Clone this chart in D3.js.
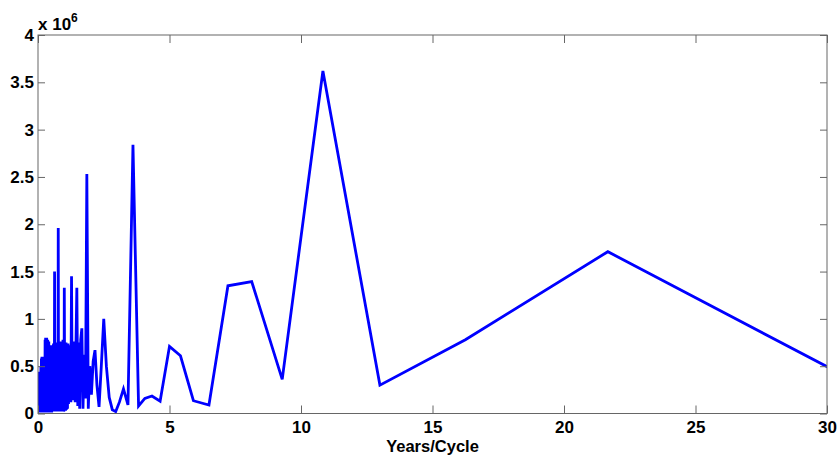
<!DOCTYPE html>
<html>
<head>
<meta charset="utf-8">
<script src="https://cdnjs.cloudflare.com/ajax/libs/d3/7.8.5/d3.min.js"></script>
<style>
  body { margin: 0; background: #fff; }
  svg { display: block; }
  text { font-family: "Liberation Sans", Arial, sans-serif; font-weight: bold; fill: #000; }
</style>
</head>
<body>
<svg id="chart" width="838" height="456"></svg>
<script>
// periods (years per cycle), ascending
var periods = [
  0.01, 0.02, 0.03, 0.04, 0.05, 0.06, 0.07, 0.08, 0.09, 0.10,
  0.11, 0.12, 0.13, 0.14, 0.15, 0.16, 0.17, 0.18, 0.19, 0.20,
  0.21, 0.22, 0.23, 0.24, 0.25, 0.26, 0.27, 0.28, 0.29, 0.30,
  0.31, 0.32, 0.33, 0.34, 0.35, 0.36, 0.37, 0.38, 0.39, 0.40,
  0.41, 0.42, 0.43, 0.44, 0.45, 0.46, 0.47, 0.48, 0.49, 0.50,
  0.51, 0.52, 0.53, 0.54, 0.55, 0.56, 0.57, 0.58, 0.59, 0.60,
  0.61, 0.62, 0.63, 0.64, 0.65, 0.66, 0.67, 0.68, 0.69, 0.70,
  0.71, 0.72, 0.73, 0.74, 0.75, 0.76, 0.77, 0.78, 0.79, 0.80,
  0.81, 0.82, 0.83, 0.84, 0.85, 0.86, 0.87, 0.88, 0.89, 0.90,
  0.91, 0.92, 0.93, 0.94, 0.95, 0.96, 0.97, 0.98, 0.99,
  1.000, 1.016, 1.032, 1.048, 1.066, 1.083, 1.102, 1.121, 1.140, 1.161,
  1.182, 1.204, 1.226, 1.250, 1.275, 1.300, 1.327, 1.354, 1.383, 1.413,
  1.444, 1.477, 1.512, 1.548, 1.585, 1.625, 1.667, 1.711, 1.757, 1.806,
  1.857, 1.912, 1.970, 2.031, 2.097, 2.167, 2.241, 2.321, 2.407, 2.500,
  2.600, 2.708, 2.826, 2.955, 3.095, 3.250, 3.421, 3.611, 3.824, 4.063,
  4.333, 4.643, 5.000, 5.417, 5.909, 6.500, 7.222, 8.125, 9.286, 10.833,
  13.000, 16.250, 21.667, 32.500
];

// power, in units of 10^6
var power = [
  0.38, 0.01, 0.42, 0.02, 0.44, 0.01, 0.40, 0.02, 0.44, 0.01,
  0.50, 0.02, 0.58, 0.01, 0.60, 0.03, 0.55, 0.02, 0.60, 0.01,
  0.58, 0.02, 0.60, 0.01, 0.56, 0.03, 0.78, 0.02, 0.80, 0.01,
  0.76, 0.02, 0.80, 0.03, 0.74, 0.01, 0.78, 0.02, 0.72, 0.01,
  0.76, 0.03, 0.70, 0.02, 0.72, 0.01, 0.68, 0.03, 0.72, 0.02,
  0.70, 0.01, 0.68, 0.03, 0.72, 0.02, 0.70, 0.04, 0.74, 0.02,
  0.72, 0.03, 1.50, 0.02, 0.74, 0.04, 0.70, 0.02, 0.75, 0.03,
  0.72, 0.04, 0.74, 0.02, 0.72, 0.05, 1.96, 0.03, 0.74, 0.05,
  0.72, 0.02, 0.76, 0.06, 0.74, 0.03, 0.72, 0.05, 0.76, 0.02,
  0.74, 0.04, 0.72, 0.03, 0.78, 0.05, 0.72, 0.02, 0.04,
  1.33, 0.05, 0.72, 0.03, 0.75, 0.04, 0.70, 0.05, 0.74, 0.10,
  0.70, 0.15, 0.72, 0.12, 1.45, 0.15, 0.75, 0.14, 0.76, 0.12,
  0.74, 1.33, 0.08, 0.75, 0.05, 0.78, 0.90, 0.05, 0.62, 0.16,
  2.53, 0.05, 0.50, 0.20, 0.55, 0.67, 0.30, 0.07, 0.50, 1.00,
  0.50, 0.17, 0.04, 0.02, 0.12, 0.26, 0.09, 2.84, 0.08, 0.16,
  0.185, 0.13, 0.71, 0.61, 0.135, 0.09, 1.35, 1.395, 0.36, 3.62,
  0.30, 0.78, 1.71, 0.13
];

var xTicks = [0, 5, 10, 15, 20, 25, 30];
var yTicks = [0, 0.5, 1, 1.5, 2, 2.5, 3, 3.5, 4];
var xLabel = "Years/Cycle";

var data = periods.map(function(p, i) { return {period: p, value: power[i]}; });

var svg = d3.select("#chart");
var plotLeft = 38, plotRight = 827, plotTop = 35, plotBottom = 413.5;

var x = d3.scaleLinear().domain([0, 30]).range([plotLeft, plotRight]);
var y = d3.scaleLinear().domain([0, 4]).range([plotBottom, plotTop]);

svg.append("defs").append("clipPath").attr("id", "plotclip")
  .append("rect")
  .attr("x", plotLeft).attr("y", plotTop)
  .attr("width", plotRight - plotLeft).attr("height", plotBottom - plotTop);

var line = d3.line()
  .x(function(d) { return x(d.period); })
  .y(function(d) { return y(d.value); });

svg.append("path")
  .datum(data)
  .attr("clip-path", "url(#plotclip)")
  .attr("fill", "none")
  .attr("stroke", "#0000ff")
  .attr("stroke-width", 2.8)
  .attr("stroke-linejoin", "miter")
  .attr("d", line);

// axes, ticks pointing inward on all four sides
function styleAxis(g) {
  g.select(".domain").remove();
  g.selectAll(".tick line").attr("stroke", "#666");
  g.selectAll(".tick text").style("font-size", "17px").attr("fill", "#000");
}

svg.append("g")
  .attr("transform", "translate(0," + plotBottom + ")")
  .call(d3.axisBottom(x).tickValues(xTicks).tickSizeInner(-8).tickSizeOuter(0).tickPadding(7.5).tickFormat(d3.format("d")))
  .call(styleAxis);

svg.append("g")
  .attr("transform", "translate(0," + plotTop + ")")
  .call(d3.axisTop(x).tickValues(xTicks).tickSizeInner(-8).tickSizeOuter(0).tickFormat(""))
  .call(styleAxis);

svg.append("g")
  .attr("transform", "translate(" + plotLeft + ",0)")
  .call(d3.axisLeft(y).tickValues(yTicks).tickSizeInner(-7).tickSizeOuter(0).tickPadding(4).tickFormat(function(d) { return String(d); }))
  .call(styleAxis);

svg.append("g")
  .attr("transform", "translate(" + plotRight + ",0)")
  .call(d3.axisRight(y).tickValues(yTicks).tickSizeInner(-7).tickSizeOuter(0).tickFormat(""))
  .call(styleAxis);

svg.append("rect")
  .attr("x", plotLeft).attr("y", plotTop)
  .attr("width", plotRight - plotLeft).attr("height", plotBottom - plotTop)
  .attr("fill", "none")
  .attr("stroke", "#666")
  .attr("stroke-width", 1);

// exponent label
var expo = svg.append("text")
  .attr("x", plotLeft).attr("y", 30)
  .style("font-size", "17px");
expo.append("tspan").text("x 10");
expo.append("tspan").attr("dy", -8).style("font-size", "12px").text("6");

svg.append("text")
  .attr("x", (plotLeft + plotRight) / 2)
  .attr("y", 451.5)
  .attr("text-anchor", "middle")
  .style("font-size", "16.5px")
  .text(xLabel);
</script>
</body>
</html>
